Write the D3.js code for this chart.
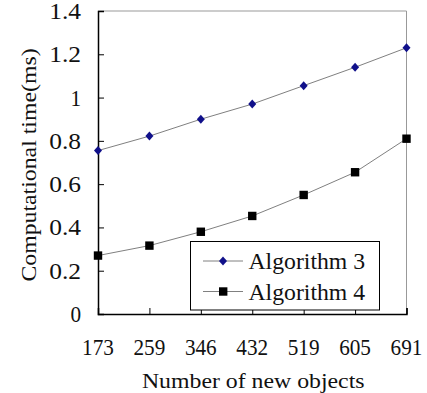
<!DOCTYPE html>
<html><head><meta charset="utf-8">
<script src="https://cdn.jsdelivr.net/npm/d3@7"></script>
<style>body{margin:0;background:#fff}svg{display:block}</style>
</head><body><div id="chart"></div>
<script>
const categories = ["173","259","346","432","519","605","691"];
const alg3 = [0.755, 0.822, 0.900, 0.970, 1.055, 1.140, 1.230];
const alg4 = [0.270, 0.316, 0.380, 0.453, 0.550, 0.655, 0.810];
const yTicks = [0, 0.2, 0.4, 0.6, 0.8, 1, 1.2, 1.4];
const seriesNames = ["Algorithm 3", "Algorithm 4"];
const FONT = "'Liberation Serif', 'Times New Roman', serif";

const W = 427, H = 393;
const m = {l: 98, t: 11, r: 20.5, b: 79};
const svg = d3.select("#chart").append("svg").attr("width", W).attr("height", H)
  .attr("font-family", FONT);
const x = d3.scalePoint().domain(categories).range([m.l, W - m.r]).padding(0);
const y = d3.scaleLinear().domain([0, 1.4]).range([H - m.b, m.t]);
const CW = 10.6; // monospace char width
function mono(sel, s){ sel.text(s).attr("font-family", FONT).attr("font-weight","normal").attr("fill","#111")
  .attr("textLength", s.length*CW).attr("lengthAdjust","spacingAndGlyphs"); }

// frame top/right
svg.append("line").attr("x1", m.l).attr("x2", W-m.r).attr("y1", m.t).attr("y2", m.t).attr("stroke","#999").attr("stroke-width",1);
svg.append("line").attr("x1", W-m.r).attr("x2", W-m.r).attr("y1", m.t).attr("y2", H-m.b).attr("stroke","#999").attr("stroke-width",1);

// y axis
const yAx = svg.append("g").attr("transform", `translate(${m.l},0)`)
  .call(d3.axisRight(y).tickValues(yTicks).tickSize(6).tickFormat(""));
yAx.select(".domain").attr("stroke","#000").attr("stroke-width",1.5);
yAx.selectAll(".tick line").attr("stroke","#000");
yTicks.forEach(v => {
  const s = v === 0 ? "0" : (Number.isInteger(v) ? String(v) : v.toFixed(1));
  const t = svg.append("text").attr("x", m.l - 17).attr("y", y(v) + 8)
    .attr("text-anchor","end").attr("font-size", 23);
  mono(t, s);
});

// x axis
const xAx = svg.append("g").attr("transform", `translate(0,${H-m.b})`)
  .call(d3.axisTop(x).tickSize(6).tickFormat(""));
xAx.select(".domain").attr("stroke","#000").attr("stroke-width",1.5);
xAx.selectAll(".tick line").attr("stroke","#000");
categories.forEach(c => {
  const t = svg.append("text").attr("x", x(c)).attr("y", 354.5).attr("text-anchor","middle").attr("font-size", 23);
  mono(t, c);
});

// axis titles
const xt = svg.append("text").attr("x", (m.l + W - m.r)/2 + 1).attr("y", 387.5).attr("text-anchor","middle").attr("font-size", 21);
mono(xt, "Number of new objects");
const yt = svg.append("text").attr("transform", `translate(36,165) rotate(-90)`).attr("text-anchor","middle").attr("font-size", 21);
mono(yt, "Computational time(ms)");

// lines
const line = d3.line().x((d,i) => x(categories[i])).y(d => y(d));
svg.append("path").datum(alg3).attr("d", line).attr("fill","none").attr("stroke","#808080").attr("stroke-width",1);
svg.append("path").datum(alg4).attr("d", line).attr("fill","none").attr("stroke","#808080").attr("stroke-width",1);

const diamond = (cx, cy) => `M${cx},${cy-4.5}L${cx+4},${cy}L${cx},${cy+4.5}L${cx-4},${cy}Z`;
svg.append("g").selectAll("path").data(alg3).join("path")
  .attr("d", (d,i) => diamond(x(categories[i]), y(d))).attr("fill","#10108a");
svg.append("g").selectAll("rect").data(alg4).join("rect")
  .attr("x", (d,i) => x(categories[i]) - 4.2).attr("y", d => y(d) - 4.2)
  .attr("width", 8.4).attr("height", 8.4).attr("fill","#000");

// legend
const lg = svg.append("g");
lg.append("rect").attr("x", 190.5).attr("y", 241.5).attr("width", 189).attr("height", 68.5)
  .attr("fill","#fff").attr("stroke","#000").attr("stroke-width",1);
const rows = [261, 291.5];
seriesNames.forEach((n, i) => {
  const cy = rows[i];
  lg.append("line").attr("x1", 203).attr("x2", 243).attr("y1", cy).attr("y2", cy).attr("stroke","#808080");
  if (i === 0) lg.append("path").attr("d", diamond(223, cy)).attr("fill","#10108a");
  else lg.append("rect").attr("x", 219).attr("y", cy-4.2).attr("width", 8.4).attr("height", 8.4).attr("fill","#000");
  const t = lg.append("text").attr("x", 248.5).attr("y", cy + 8).attr("font-size", 23);
  mono(t, n);
});
</script></body></html>
